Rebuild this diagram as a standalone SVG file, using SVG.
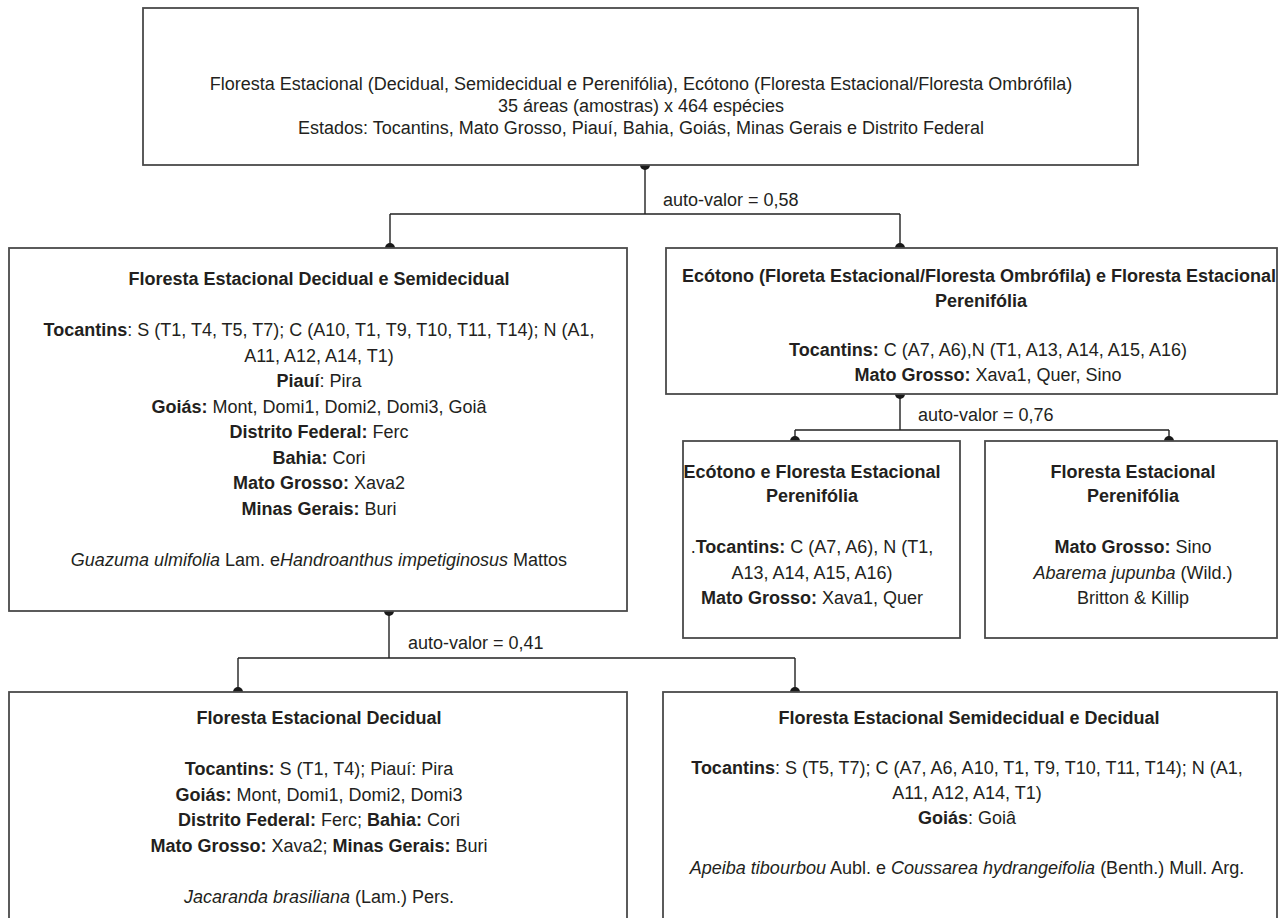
<svg xmlns="http://www.w3.org/2000/svg" width="1280" height="918" viewBox="0 0 1280 918">
<style>
.box{fill:#fff;stroke:#4a4a4a;stroke-width:1.8}
.ln{fill:none;stroke:#222;stroke-width:1.4}
.dot{fill:#1a1a1a}
text{font-family:"Liberation Sans",Arial,sans-serif;font-size:18px;fill:#231f20;text-anchor:middle}
.b{font-weight:bold}
.i{font-style:italic}
.lbl{text-anchor:start}
</style>
<rect width="1280" height="918" fill="#fff"/>
<g id="connectors">
<path class="ln" d="M645 165V214M390 214H900M390 214V248M900 214V248"/>
<path class="ln" d="M389 611V658M238 658H795M238 658V692M795 658V692"/>
<path class="ln" d="M900 394V430M795 430H1169M795 430V441M1169 430V441"/>
<circle class="dot" cx="645" cy="165" r="5"/>
<circle class="dot" cx="390" cy="248" r="5"/>
<circle class="dot" cx="900" cy="248" r="5"/>
<circle class="dot" cx="389" cy="611" r="5"/>
<circle class="dot" cx="238" cy="692" r="5"/>
<circle class="dot" cx="795" cy="692" r="5"/>
<circle class="dot" cx="900" cy="394" r="5"/>
<circle class="dot" cx="795" cy="441" r="5"/>
<circle class="dot" cx="1169" cy="441" r="5"/>
<text class="lbl" x="663" y="206">auto-valor = 0,58</text>
<text class="lbl" x="408" y="649">auto-valor = 0,41</text>
<text class="lbl" x="918" y="421">auto-valor = 0,76</text>
</g>
<g id="root">
<rect class="box" x="143" y="8" width="995" height="157"/>
<text x="641" y="90">Floresta Estacional (Decidual, Semidecidual e Perenifólia), Ecótono (Floresta Estacional/Floresta Ombrófila)</text>
<text x="641" y="112">35 áreas (amostras) x 464 espécies</text>
<text x="641" y="134">Estados: Tocantins, Mato Grosso, Piauí, Bahia, Goiás, Minas Gerais e Distrito Federal</text>
</g>
<g id="decidual-semidecidual">
<rect class="box" x="9" y="248" width="618" height="363"/>
<text class="b" x="319" y="285">Floresta Estacional Decidual e Semidecidual</text>
<text x="319" y="336"><tspan class="b">Tocantins</tspan>: S (T1, T4, T5, T7); C (A10, T1, T9, T10, T11, T14); N (A1,</text>
<text x="319" y="361.5">A11, A12, A14, T1)</text>
<text x="319" y="387"><tspan class="b">Piauí</tspan>: Pira</text>
<text x="319" y="412.5"><tspan class="b">Goiás:</tspan> Mont, Domi1, Domi2, Domi3, Goiâ</text>
<text x="319" y="438"><tspan class="b">Distrito Federal:</tspan> Ferc</text>
<text x="319" y="463.5"><tspan class="b">Bahia:</tspan> Cori</text>
<text x="319" y="489"><tspan class="b">Mato Grosso:</tspan> Xava2</text>
<text x="319" y="514.5"><tspan class="b">Minas Gerais:</tspan> Buri</text>
<text x="319" y="566"><tspan class="i">Guazuma ulmifolia</tspan> Lam. e<tspan class="i">Handroanthus impetiginosus</tspan> Mattos</text>
</g>
<g id="ecotono-perenifolia">
<rect class="box" x="666" y="248" width="611" height="146"/>
<text class="b" x="979" y="282">Ecótono (Floreta Estacional/Floresta Ombrófila) e Floresta Estacional</text>
<text class="b" x="981" y="307">Perenifólia</text>
<text x="988" y="356"><tspan class="b">Tocantins:</tspan> C (A7, A6),N (T1, A13, A14, A15, A16)</text>
<text x="988" y="381"><tspan class="b">Mato Grosso:</tspan> Xava1, Quer, Sino</text>
</g>
<g id="ecotono-floresta">
<rect class="box" x="683" y="441" width="277" height="197"/>
<text class="b" x="812" y="478">Ecótono e Floresta Estacional</text>
<text class="b" x="812" y="502">Perenifólia</text>
<text x="812" y="553">.<tspan class="b">Tocantins:</tspan> C (A7, A6), N (T1,</text>
<text x="812" y="578.5">A13, A14, A15, A16)</text>
<text x="812" y="604"><tspan class="b">Mato Grosso:</tspan> Xava1, Quer</text>
</g>
<g id="perenifolia">
<rect class="box" x="985" y="441" width="292" height="197"/>
<text class="b" x="1133" y="478">Floresta Estacional</text>
<text class="b" x="1133" y="502">Perenifólia</text>
<text x="1133" y="553"><tspan class="b">Mato Grosso:</tspan> Sino</text>
<text x="1133" y="578.5"><tspan class="i">Abarema jupunba</tspan> (Wild.)</text>
<text x="1133" y="604">Britton &amp; Killip</text>
</g>
<g id="decidual">
<rect class="box" x="9" y="692" width="618" height="240"/>
<text class="b" x="319" y="724">Floresta Estacional Decidual</text>
<text x="319" y="775"><tspan class="b">Tocantins:</tspan> S (T1, T4); Piauí: Pira</text>
<text x="319" y="800.5"><tspan class="b">Goiás:</tspan> Mont, Domi1, Domi2, Domi3</text>
<text x="319" y="826"><tspan class="b">Distrito Federal:</tspan> Ferc; <tspan class="b">Bahia:</tspan> Cori</text>
<text x="319" y="851.5"><tspan class="b">Mato Grosso:</tspan> Xava2; <tspan class="b">Minas Gerais:</tspan> Buri</text>
<text x="319" y="903"><tspan class="i">Jacaranda brasiliana</tspan> (Lam.) Pers.</text>
</g>
<g id="semidecidual-decidual">
<rect class="box" x="663" y="692" width="614" height="240"/>
<text class="b" x="969" y="724">Floresta Estacional Semidecidual e Decidual</text>
<text x="967" y="774"><tspan class="b">Tocantins</tspan>: S (T5, T7); C (A7, A6, A10, T1, T9, T10, T11, T14); N (A1,</text>
<text x="967" y="799">A11, A12, A14, T1)</text>
<text x="967" y="824"><tspan class="b">Goiás</tspan>: Goiâ</text>
<text x="967" y="874"><tspan class="i">Apeiba tibourbou</tspan> Aubl. e <tspan class="i">Coussarea hydrangeifolia</tspan> (Benth.) Mull. Arg.</text>
</g>
</svg>
